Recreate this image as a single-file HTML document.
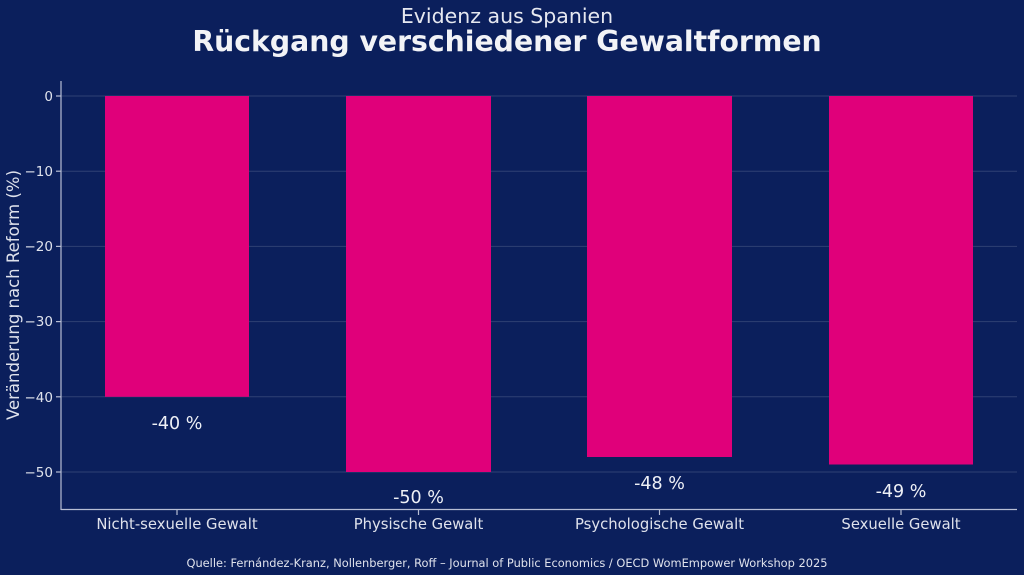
<!DOCTYPE html>
<html><head><meta charset="utf-8"><style>
html,body{margin:0;padding:0;background:#0b1f5c;}
svg{display:block;font-family:"DejaVu Sans","Liberation Sans",sans-serif;}
</style></head><body>
<svg width="1024" height="575" viewBox="0 0 1024 575">
<rect width="1024" height="575" fill="#0b1f5c"/>
<text x="507" y="23" text-anchor="middle" font-size="20.5" fill="#e6e8f0">Evidenz aus Spanien</text>
<text x="507" y="51" text-anchor="middle" font-size="28.3" font-weight="bold" fill="#f2f3f7">Rückgang verschiedener Gewaltformen</text>
<g stroke="#ffffff" stroke-opacity="0.15" stroke-width="1">
<line x1="61" x2="1017" y1="96" y2="96"/><line x1="61" x2="1017" y1="171.2" y2="171.2"/>
<line x1="61" x2="1017" y1="246.4" y2="246.4"/><line x1="61" x2="1017" y1="321.6" y2="321.6"/>
<line x1="61" x2="1017" y1="396.8" y2="396.8"/><line x1="61" x2="1017" y1="472" y2="472"/>
</g>
<g fill="#e0007a">
<rect x="105" y="96" width="144" height="300.8"/>
<rect x="346" y="96" width="145" height="376"/>
<rect x="587" y="96" width="145" height="361"/>
<rect x="829" y="96" width="144" height="368.5"/>
</g>
<g stroke="#b8bed4" stroke-width="1.2">
<line x1="61" y1="81" x2="61" y2="510"/><line x1="61" y1="509.5" x2="1017" y2="509.5"/>
<line x1="56" x2="61" y1="96" y2="96"/><line x1="56" x2="61" y1="171.2" y2="171.2"/>
<line x1="56" x2="61" y1="246.4" y2="246.4"/><line x1="56" x2="61" y1="321.6" y2="321.6"/>
<line x1="56" x2="61" y1="396.8" y2="396.8"/><line x1="56" x2="61" y1="472" y2="472"/>
<line x1="177" x2="177" y1="510" y2="515"/><line x1="418.5" x2="418.5" y1="510" y2="515"/>
<line x1="659.5" x2="659.5" y1="510" y2="515"/><line x1="901" x2="901" y1="510" y2="515"/>
</g>
<g font-size="13.5" fill="#dfe2ec" text-anchor="end">
<text x="53" y="101">0</text><text x="53" y="176">−10</text><text x="53" y="251">−20</text>
<text x="53" y="326">−30</text><text x="53" y="402">−40</text><text x="53" y="477">−50</text>
</g>
<text transform="translate(19,295) rotate(-90)" text-anchor="middle" font-size="16.5" fill="#dfe2ec">Veränderung nach Reform (%)</text>
<g font-size="14.8" fill="#dfe2ec" text-anchor="middle">
<text x="177" y="529">Nicht-sexuelle Gewalt</text><text x="418.5" y="529">Physische Gewalt</text>
<text x="659.5" y="529">Psychologische Gewalt</text><text x="901" y="529">Sexuelle Gewalt</text>
</g>
<g font-size="17.5" fill="#eef0f6" text-anchor="middle">
<text x="177" y="429">-40 %</text><text x="418.5" y="503">-50 %</text>
<text x="659.5" y="489">-48 %</text><text x="901" y="497">-49 %</text>
</g>
<text x="507" y="567" text-anchor="middle" font-size="11.4" fill="#dfe2ec">Quelle: Fernández-Kranz, Nollenberger, Roff – Journal of Public Economics / OECD WomEmpower Workshop 2025</text>
</svg>
</body></html>
